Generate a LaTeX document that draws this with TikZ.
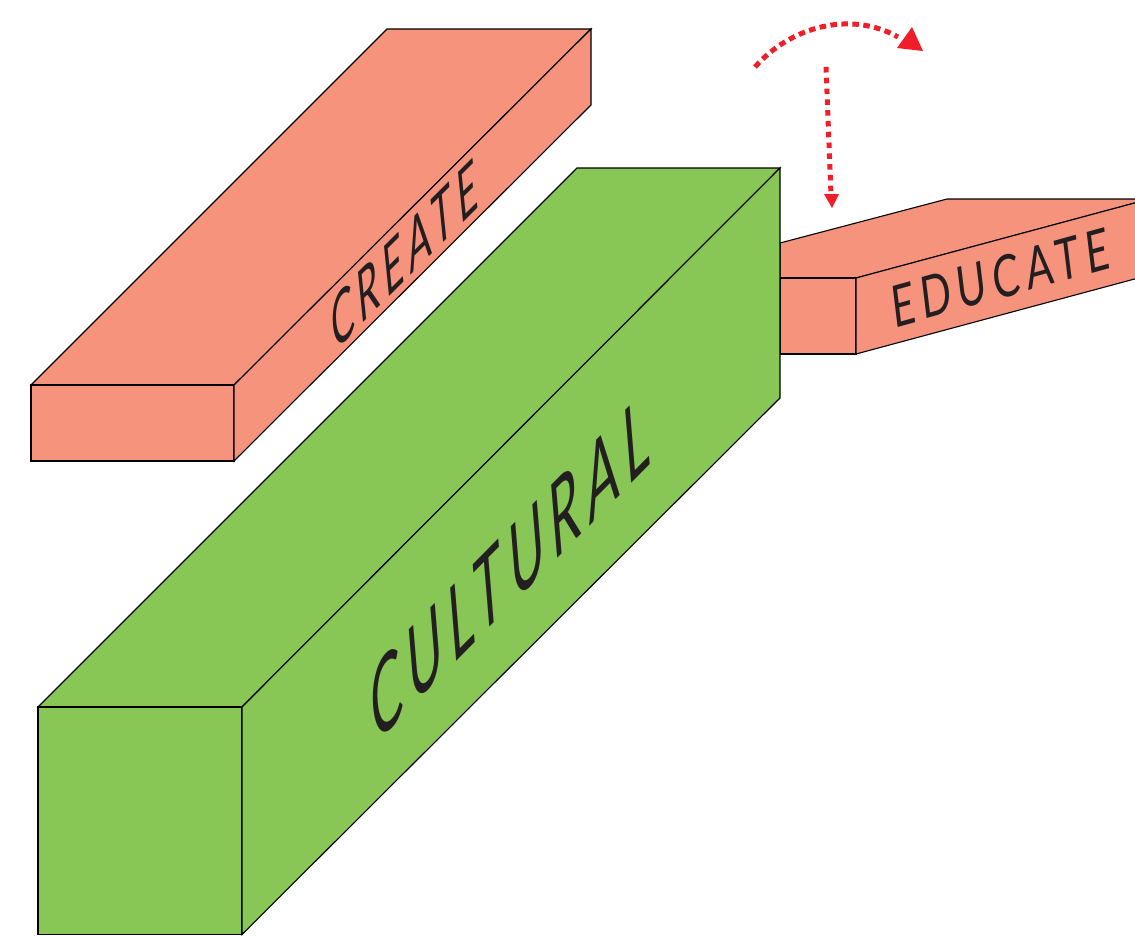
\documentclass[tikz,border=0pt]{standalone}
\usepackage{fontspec}
\newfontfamily\labelfont[LetterSpace=16]{Lato}
\definecolor{salmon}{HTML}{F6937D}
\definecolor{leaf}{HTML}{88C655}
\definecolor{signal}{HTML}{F01E28}
\definecolor{ink}{HTML}{231F20}
\newlength\wlen
\newlength\hlen
% name, text, x0,y0 (baseline start), x1,y1 (baseline end), vx,vy (cap-height vector, y up)
\newcommand{\skewlabel}[8]{%
  \pgfinterruptpicture
  \settowidth\wlen{\labelfont #2}\global\wlen=\wlen
  \settoheight\hlen{\labelfont E}\global\hlen=\hlen
  \endpgfinterruptpicture
  \pgfmathsetmacro\ua{(#5-#3)/\wlen}%
  \pgfmathsetmacro\ub{(#4-#6)/\wlen}%
  \pgfmathsetmacro\va{#7/\hlen}%
  \pgfmathsetmacro\vb{#8/\hlen}%
  \node[textlabel,cm={\ua,\ub,\va,\vb,(#3,#4)}] (#1) at (0,0) {\labelfont #2};%
}
\tikzset{
  face/.style={draw=black,line width=1.1pt,line join=miter},
  textlabel/.style={transform shape,anchor=base west,inner sep=0pt,outer sep=0pt,text=ink},
  dashedred/.style={draw=signal,line width=5pt,dash pattern=on 6.5pt off 4.5pt},
  dottedred/.style={draw=signal,line width=5pt,dash pattern=on 5.5pt off 5.3pt},
  head/.style={fill=signal,draw=none}
}
\begin{document}
\begin{tikzpicture}[x=1pt,y=-1pt]
\useasboundingbox (0,0) rectangle (1135,935);
% EDUCATE
\path[face,fill=salmon] (780,243) -- (947,199) -- (1142,199) -- (1142,201) -- (856,278) -- (780,278) -- cycle;
\path[face,fill=salmon] (780,278) -- (856,278) -- (856,354) -- (780,354) -- cycle;
\path[face,fill=salmon] (856,278) -- (1142,201) -- (1142,277) -- (856,354) -- cycle;
% CREATE
\path[face,fill=salmon] (387,29) -- (591,29) -- (234,385) -- (31,385) -- cycle;
\path[face,fill=salmon] (31,385) -- (234,385) -- (234,461) -- (31,461) -- cycle;
\path[face,fill=salmon] (234,385) -- (591,29) -- (591,105) -- (234,461) -- cycle;
% CULTURAL
\path[face,fill=leaf] (577,168) -- (780,168) -- (242,707) -- (38,707) -- cycle;
\path[face,fill=leaf] (38,707) -- (242,707) -- (242,934.5) -- (38,934.5) -- cycle;
\path[face,fill=leaf] (242,707) -- (780,168) -- (780,398) -- (242,934.5) -- cycle;
% labels
\skewlabel{cultural}{CULTURAL}{374}{745}{651}{464}{-6}{73}
\skewlabel{create}{CREATE}{334}{352}{479}{207}{-5}{50}
\skewlabel{educate}{EDUCATE}{894}{328}{1111}{268}{-5}{41}
% arrows
\coordinate (curveA) at (755,67);
\coordinate (curveB) at (898,37);
\coordinate (dropA) at (826,67);
\coordinate (dropB) at (831,195);
\path[dashedred] (curveA) .. controls (790,27) and (850,10) .. (curveB);
\path[head] (912,27) -- (923,51) -- (897,48) -- cycle;
\path[dottedred] (dropA) -- (dropB);
\path[head] (824,194) -- (839,194) -- (832,208) -- cycle;
\end{tikzpicture}
\end{document}
